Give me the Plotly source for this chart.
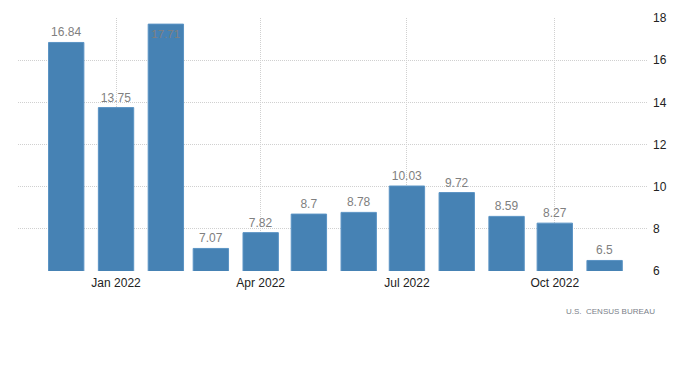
import plotly.graph_objects as go

months = ["2021-12-01", "2022-01-01", "2022-02-01", "2022-03-01", "2022-04-01", "2022-05-01",
          "2022-06-01", "2022-07-01", "2022-08-01", "2022-09-01", "2022-10-01", "2022-11-01"]
values = [16.84, 13.75, 17.71, 7.07, 7.82, 8.7, 8.78, 10.03, 9.72, 8.59, 8.27, 6.5]
labels = ["16.84", "13.75", "17.71", "7.07", "7.82", "8.7", "8.78", "10.03", "9.72", "8.59", "8.27", "6.5"]
tick_vals = ["2022-01-01", "2022-04-01", "2022-07-01", "2022-10-01"]
tick_text = ["Jan 2022", "Apr 2022", "Jul 2022", "Oct 2022"]
y_ticks = [6, 8, 10, 12, 14, 16, 18]
source = "U.S.  CENSUS BUREAU"

ymax = 18
positions = ["inside" if v > ymax - 0.6 else "outside" for v in values]
FONT = "Liberation Sans, Arial"

fig = go.Figure()
fig.add_trace(go.Bar(
    x=months, y=values,
    width=[22 * 86400000] * len(values),
    marker=dict(color="#4682b4", line=dict(color="#5a93c4", width=1)),
    text=labels, textposition=positions, textangle=0,
    insidetextanchor="end",
    textfont=dict(color="#808080", size=12, family=FONT),
    outsidetextfont=dict(color="#808080", size=12, family=FONT),
    insidetextfont=dict(color="#808080", size=12, family=FONT),
    cliponaxis=False,
    hoverinfo="x+y",
))

fig.update_layout(
    width=692, height=362,
    margin=dict(l=10, r=52, t=10, b=99, autoexpand=False),
    paper_bgcolor="white", plot_bgcolor="white",
    showlegend=False,
    font=dict(family=FONT, size=12, color="#222222"),
    xaxis=dict(
        type="date", automargin=False,
        range=["2021-11-01", "2022-11-28"],
        tickvals=tick_vals, ticktext=tick_text,
        showgrid=True, gridcolor="#d0d0d0", griddash="1px,1px", gridwidth=1,
        showline=False, zeroline=False, ticks="",
        ticklabelstandoff=3,
        tickfont=dict(size=12, color="#222222"),
    ),
    yaxis=dict(
        side="right", automargin=False,
        range=[6, 18],
        tickvals=y_ticks,
        showgrid=True, gridcolor="#d0d0d0", griddash="1px,1px", gridwidth=1,
        showline=False, zeroline=False, ticks="",
        ticklabelstandoff=4,
        tickfont=dict(size=12, color="#222222"),
    ),
    annotations=[dict(
        text=source, xref="paper", yref="paper", x=1.0143, y=-0.162,
        xanchor="right", yanchor="middle", showarrow=False,
        font=dict(size=8, color="#7a7f8a", family=FONT),
    )],
)

fig.write_html("out.html")
